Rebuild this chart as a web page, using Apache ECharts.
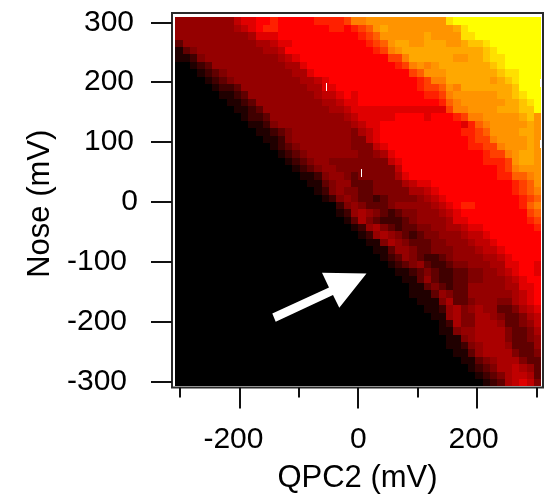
<!DOCTYPE html>
<html>
<head>
<meta charset="utf-8">
<title>QPC2 vs Nose</title>
<script src="https://cdn.jsdelivr.net/npm/echarts@6/dist/echarts.min.js"></script>
<style>
html,body{margin:0;padding:0;background:#fff;}
#main{width:551px;height:499px;}
</style>
</head>
<body>
<div id="main"></div>
<script>
// signal level per cell (base 36 digit), top row first
var signalRows = [
"55555555788" + "99a99999a" + "aaabddeeee" + "eeeeeeehii" + "iiiiiiiiii",
"5555555567" + "89aa999999" + "9aa9abcefe" + "eeeeeeeefh" + "iiiiiiiiii",
"5555555555" + "6888999999" + "99999abcee" + "eeeefeeeeh" + "hiiiiiiiii",
"3555555555" + "5667889999" + "999999abce" + "ffeefffeef" + "gghiiiiiii",
"1345555555" + "5566799999" + "9999999abd" + "efffffffff" + "ffghiiiiii",
"1124555555" + "5555678999" + "999999999b" + "bdffffffee" + "ffghhiiiii",
"0012355555" + "5555566899" + "9999999999" + "abdedeffff" + "fffghiiiii",
"0001234555" + "5555556689" + "9999999999" + "99bceeefff" + "ffffghhiii",
"0000123455" + "5555555667" + "8999999999" + "999abddfff" + "fffefghiii",
"0000012235" + "5555555566" + "8899999999" + "999abbcedf" + "ffffffgiii",
"0000001123" + "5555555556" + "7789899999" + "9999aabdee" + "eeeeffghii",
"0000000112" + "3555555555" + "6678899999" + "999999acde" + "eeeeeffghi",
"0000000011" + "2355555555" + "5667888888" + "8888888bdd" + "eeeefffggi",
"0000000001" + "2235555555" + "5556788888" + "99998999ab" + "ddeeeeefge",
"0000000000" + "1124555555" + "5555678899" + "9999999998" + "acdeeeeefe",
"0000000000" + "0112345555" + "5555467899" + "999999999a" + "abceeeeffe",
"0000000000" + "0011245555" + "5555447899" + "9999999999" + "abbdeeeefe",
"0000000000" + "0001234555" + "5555444789" + "9999999999" + "aabbdeeefe",
"0000000000" + "0000123455" + "5555544568" + "9999999999" + "99abbdeffe",
"0000000000" + "0000012345" + "5444444447" + "8999999999" + "99aaabeffe",
"0000000000" + "0000001234" + "5544444444" + "7999999999" + "9999abdeee",
"0000000000" + "0000000112" + "4554344444" + "6899999999" + "9999aaccde",
"0000000000" + "0000000011" + "3455333444" + "4678899999" + "999999abce",
"0000000000" + "0000000001" + "2454433444" + "4466789999" + "999999abcd",
"0000000000" + "0000000000" + "1245433234" + "4445678999" + "9999999abc",
"0000000000" + "0000000000" + "0024543334" + "555556789a" + "a999999acd",
"0000000000" + "0000000000" + "0012565432" + "3445556789" + "99999999bc",
"0000000000" + "0000000000" + "0001364322" + "2345555688" + "99999999ab",
"0000000000" + "0000000000" + "0000125643" + "2334455667" + "889999999a",
"0000000000" + "0000000000" + "0000012565" + "4323445556" + "7789999999",
"0000000000" + "0000000000" + "0000001146" + "5433344555" + "6778999999",
"0000000000" + "0000000000" + "0000000113" + "5543344455" + "5677899999",
"0000000000" + "0000000000" + "0000000012" + "3543223455" + "5566789999",
"0000000000" + "0000000000" + "0000000001" + "2345322344" + "5556688998",
"0000000000" + "0000000000" + "0000000000" + "1123432233" + "4455678998",
"0000000000" + "0000000000" + "0000000000" + "0113532233" + "4455567899",
"0000000000" + "0000000000" + "0000000000" + "0011343233" + "5555566889",
"0000000000" + "0000000000" + "0000000000" + "0011135433" + "5555556789",
"0000000000" + "0000000000" + "0000000000" + "0001114633" + "4555446789",
"0000000000" + "0000000000" + "0000000000" + "0000112564" + "5655334678",
"0000000000" + "0000000000" + "0000000000" + "0000011564" + "4665433467",
"0000000000" + "0000000000" + "0000000000" + "0000001264" + "4666533457",
"0000000000" + "0000000000" + "0000000000" + "0000001145" + "5666643346",
"0000000000" + "0000000000" + "0000000000" + "0000000114" + "5666643345",
"0000000000" + "0000000000" + "0000000000" + "0000000112" + "4566653335",
"0000000000" + "0000000000" + "0000000000" + "0000000011" + "3566664334",
"0000000000" + "0000000000" + "0000000000" + "0000000001" + "1345666433",
"0000000000" + "0000000000" + "0000000000" + "0000000000" + "1234667653",
"0000000000" + "0000000000" + "0000000000" + "0000000000" + "0123467763",
"0000000000" + "0000000000" + "0000000000" + "0000000000" + "0012367874"
];
var xMajorTicks = [-200, 0, 200];
var xMinorTicks = [-300, -100, 100, 300];
var yTicks = [-300, -200, -100, 0, 100, 200, 300];
// dropout specks in the scan [qpc2, nose]
var dropouts = [[-54, 192], [5, 48], [306, 199], [306, 96]];

var levelColors = ['#000000','#200000','#400000','#600000','#800000','#950000','#aa0000','#c00000','#e00000','#ff0000',
	'#ff2000','#ff4000','#ff6000','#ff8000','#ff9400','#ffa800','#ffc400','#ffe000','#ffff00'];

// scan range in mV, cells are read between these
var xStart = -308, xEnd = 308, yStart = 308, yEnd = -308;
var cols = 50, rows = signalRows.length;
var cellW = (xEnd - xStart) / cols, cellH = (yStart - yEnd) / rows;

var cells = [];
for (var r = 0; r < rows; r++) {
	for (var c = 0; c < cols; c++) {
		cells.push([xStart + (c + 0.5) * cellW, yStart - (r + 0.5) * cellH, parseInt(signalRows[r].charAt(c), 36)]);
	}
}

function renderCell(params, api) {
	var a = api.coord([api.value(0) - cellW / 2, api.value(1) + cellH / 2]);
	var b = api.coord([api.value(0) + cellW / 2, api.value(1) - cellH / 2]);
	var x0 = Math.round(a[0]), y0 = Math.round(a[1]);
	return {
		type: 'rect',
		shape: { x: x0, y: y0, width: Math.round(b[0]) - x0, height: Math.round(b[1]) - y0 },
		style: { fill: api.visual('color') }
	};
}
function renderSpeck(params, api) {
	var p = api.coord([api.value(0), api.value(1)]);
	return {
		type: 'rect',
		shape: { x: Math.round(p[0]), y: Math.round(p[1]) - 4, width: 1, height: 8 },
		style: { fill: '#ffffff' }
	};
}

var font = 'Liberation Sans';
var labelSize = 30, nameSize = 31;
var tickLine = { color: '#111', width: 2 };
var noLine = { show: false, onZero: false };

// the tick labels sit a little off their ticks in the original
function richLabel(pad) {
	return { color: '#000', fontFamily: font, fontSize: labelSize, padding: pad };
}
function tagLabel(v) {
	var tag = v < 0 ? 'neg' : (v == 0 ? 'zero' : 'pos');
	return '{' + tag + '|' + v + '}';
}

var nameStyle = { color: '#000', fontFamily: font, fontSize: nameSize };
var chart = echarts.init(document.getElementById('main'), null, { renderer: 'canvas' });
chart.setOption({
	animation: false,
	backgroundColor: '#fff',
	grid: { show: true, left: 172, top: 13, width: 371, height: 376, borderColor: '#2a2a2a', borderWidth: 2, backgroundColor: '#fff' },
	visualMap: { show: false, type: 'continuous', seriesIndex: 0, dimension: 2, min: 0, max: levelColors.length - 1, inRange: { color: levelColors } },
	xAxis: [{
		type: 'value', position: 'bottom', min: -313.5, max: 311, name: 'QPC2 (mV)', nameLocation: 'middle', nameGap: 75.5,
		nameTextStyle: nameStyle,
		splitLine: { show: false }, axisLine: noLine, axisTick: { show: false },
		axisLabel: {
			customValues: xMajorTicks, margin: 37, formatter: tagLabel,
			rich: { neg: richLabel([0, 12, 0, 0]), zero: richLabel([0, 0, 0, 0]), pos: richLabel([0, 7, 0, 0]) }
		}
	}, {
		type: 'value', position: 'bottom', min: -313.5, max: 311,
		splitLine: { show: false }, axisLine: noLine,
		axisTick: { show: true, length: 21, customValues: xMajorTicks, lineStyle: tickLine },
		axisLabel: { show: false, customValues: xMajorTicks }
	}, {
		type: 'value', position: 'bottom', min: -313.5, max: 311,
		splitLine: { show: false }, axisLine: noLine,
		axisTick: { show: true, length: 10, customValues: xMinorTicks, lineStyle: tickLine },
		axisLabel: { show: false, customValues: xMinorTicks }
	}],
	yAxis: [{
		type: 'value', position: 'left', min: -310, max: 315.5, name: 'Nose (mV)', nameLocation: 'middle', nameGap: 116.5,
		nameTextStyle: { color: '#000', fontFamily: font, fontSize: nameSize, padding: [0, 7, 0, 0] },
		splitLine: { show: false }, axisLine: noLine, axisTick: { show: false },
		axisLabel: {
			customValues: yTicks, margin: 34, formatter: tagLabel,
			rich: { neg: richLabel([0, 11, 0, 0]), zero: richLabel([0, 0, 0, 0]), pos: richLabel([0, 4, 0, 0]) }
		}
	}, {
		type: 'value', position: 'left', min: -310, max: 315.5,
		splitLine: { show: false }, axisLine: noLine,
		axisTick: { show: true, length: 21, customValues: yTicks, lineStyle: tickLine },
		axisLabel: { show: false, customValues: yTicks }
	}],
	series: [
		{ type: 'custom', renderItem: renderCell, data: cells, encode: { x: 0, y: 1 }, clip: true, silent: true },
		{ type: 'custom', renderItem: renderSpeck, data: dropouts, encode: { x: 0, y: 1 }, silent: true, z: 3 }
	],
	graphic: [{
		type: 'polygon', z: 10, silent: true,
		shape: { points: [[272.3, 313.5], [329, 287.5], [322, 272.7], [366.5, 273.5], [339.3, 307.7], [333, 295], [275.7, 321.7]] },
		style: { fill: '#fff' }
	}]
});
</script>
</body>
</html>
